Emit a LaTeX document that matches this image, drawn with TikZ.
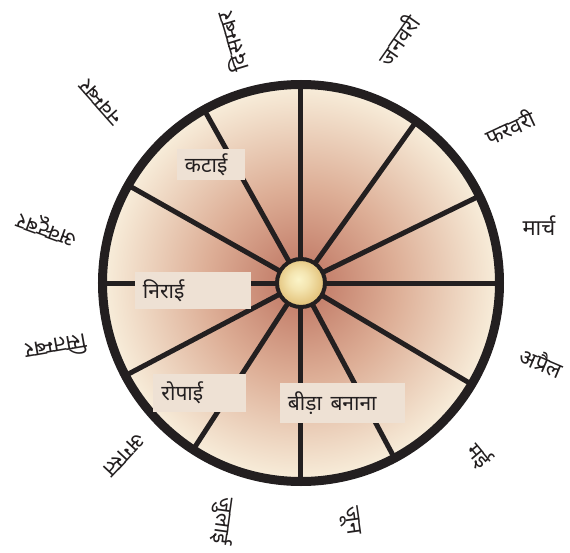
\documentclass[tikz,border=0pt]{standalone}
\usepackage{fontspec}
\newfontfamily\deva[Script=Devanagari]{Noto Sans}
\definecolor{ink}{HTML}{231F20}
\definecolor{boxfill}{HTML}{EEE1D4}
\definecolor{wA}{HTML}{C27C68}
\definecolor{wB}{HTML}{DDAE96}
\definecolor{wC}{HTML}{F8EEDB}
\definecolor{hA}{HTML}{FBF4C8}
\definecolor{hB}{HTML}{E3C27A}
\pgfdeclareradialshading{wheelshade}{\pgfpoint{0bp}{0bp}}{color(0bp)=(wA); color(2bp)=(wA); color(12bp)=(wB); color(25bp)=(wC); color(50bp)=(wC)}
\pgfdeclareradialshading{hubshade}{\pgfpoint{-3bp}{4bp}}{color(0bp)=(hA); color(10bp)=(hA!70!hB); color(25bp)=(hB); color(50bp)=(hB)}
\begin{document}
\begin{tikzpicture}[x=1pt,y=1pt,
  month/.style={font=\deva\fontsize{22}{26}\selectfont, text=ink, inner sep=0pt},
  lblbox/.style={fill=boxfill, font=\deva\fontsize{21}{24}\selectfont, text=ink, inner ysep=0pt, inner xsep=8pt, align=left},
  spoke/.style={ink, line width=5pt}]
\useasboundingbox (-301,-269) rectangle (269,283);
\coordinate (c) at (0,0);
\shade[shading=wheelshade] (c) circle (198);
\foreach \a [count=\i] in {90,54.5,26,0,-30.7,-61.9,-90,-122.9,-152.2,180,150.5,119.2}
  \coordinate (r\i) at (\a:196);
\foreach \i in {1,...,12}
  \draw[spoke] (c) -- (r\i);
\draw[ink, line width=9pt] (c) circle (198.5);
\node[circle, minimum size=48pt, inner sep=0pt, draw=ink, line width=4pt, shading=hubshade] (hub) at (c) {};

\node[lblbox, text width=52pt, minimum height=31pt] (katai) at (-90,118.5) {कटाई};
\node[lblbox, text width=100pt, minimum height=37pt] (nirai) at (-108,-7.5) {निराई};
\node[lblbox, text width=76pt, minimum height=38pt, inner xsep=8.5pt] (ropai) at (-101.5,-110) {रोपाई};
\node[lblbox, text width=109pt, minimum height=40pt] (bida) at (41.5,-120) {बीड़ा\hspace{0.4em}बनाना};

\node[month, rotate=55] (m1) at (97,243) {जनवरी};
\node[month, rotate=25] (m2) at (209,156) {फरवरी};
\node[month, rotate=0] (m3) at (238,57) {मार्च};
\node[month, rotate=-23] (m4) at (241,-79) {अप्रैल};
\node[month, rotate=-50] (m5) at (178,-172) {मई};
\node[month, rotate=-82] (m6) at (49,-238) {जून};
\node[month, rotate=262] (m7) at (-78,-238) {जुलाई};
\node[month, rotate=227] (m8) at (-177,-172) {अगस्त};
\node[month, rotate=190] (m9) at (-245,-65) {सितम्बर};
\node[month, rotate=160] (m10) at (-253,55) {अक्टूबर};
\node[month, rotate=132] (m11) at (-200,181) {नवम्बर};
\node[month, rotate=107] (m12) at (-69,241) {दिसम्बर};
\end{tikzpicture}
\end{document}
